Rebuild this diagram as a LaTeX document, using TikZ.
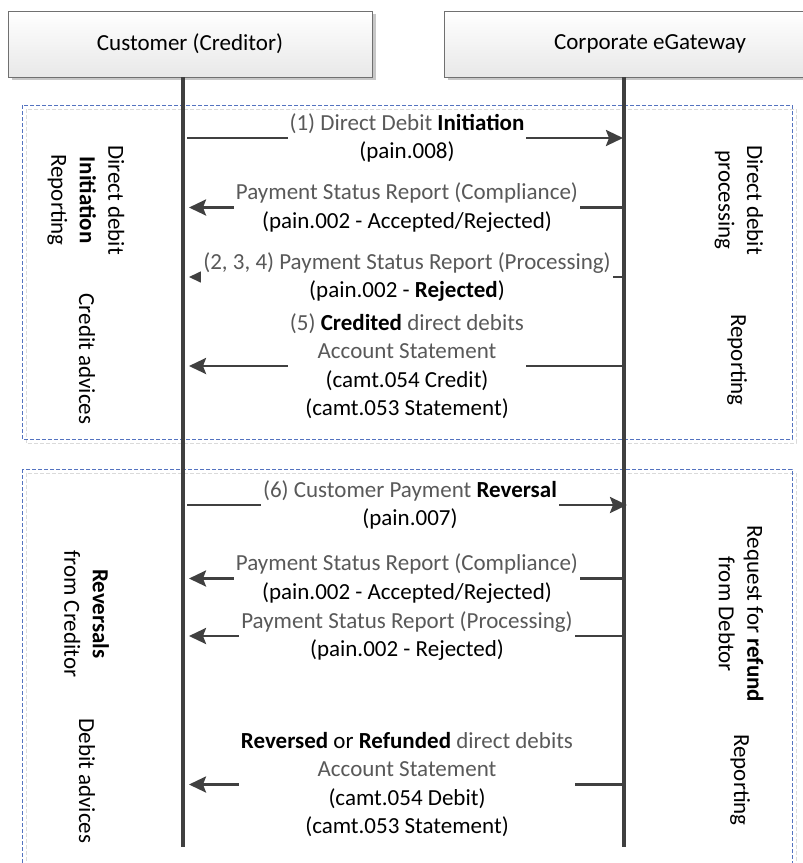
\documentclass[tikz,border=0pt]{standalone}
\usepackage{fontspec}
\setmainfont{Carlito}
\usetikzlibrary{arrows.meta,shadows,calc}
\definecolor{tg}{HTML}{595959}
\definecolor{dk}{HTML}{404040}
\definecolor{grpblue}{HTML}{5473C0}
\definecolor{grpgray}{HTML}{DADADA}
\definecolor{hdrline}{HTML}{707070}
\begin{document}
\begin{tikzpicture}[x=1pt,y=-1pt,
  every node/.style={font=\fontsize{23}{28.5}\selectfont, inner sep=0pt},
  hdr/.style={draw=hdrline, line width=0.9pt, shading=axis, top color=white, bottom color=black!9,
    minimum height=66pt, drop shadow={shadow xshift=4pt, shadow yshift=-3pt, fill=black!22, opacity=1}},
  grpbox/.style={draw=grpblue, line width=0.9pt, dash pattern=on 4pt off 2pt},
  grpshadow/.style={draw=grpgray, line width=0.9pt, dash pattern=on 4pt off 2pt},
  life/.style={draw=dk, line width=3.4pt},
  msg/.style={draw=dk, line width=2.6pt, -{Stealth[length=17pt 0, width=16pt 0, inset=3pt 0]}},
  lbl/.style={fill=white, align=center, inner xsep=2pt, inner ysep=0pt},
  vtext/.style={rotate=-90, align=center}
]
\useasboundingbox (0,0) rectangle (803,863);
\fill[white] (0,0) rectangle (803,863);
\clip (0,0) rectangle (803,863);

% group frames
\draw[grpshadow] (26,109) rectangle (796,443);
\draw[grpbox] (22,105) rectangle (792,439);
\draw[grpshadow] (26,473) rectangle (796,900);
\draw[grpbox] (22,469) rectangle (792,900);

% headers
\node[hdr, minimum width=364pt] (cust) at (190,44) {Customer (Creditor)};
\node[hdr, minimum width=412pt] (gate) at (650,44) {Corporate eGateway};

% lifelines
\coordinate (endL) at (183,847);
\coordinate (endR) at (624,847);
\draw[life] (cust.south -| endL) -- (endL);
\draw[life] (gate.south -| endR) -- (endR);

% arrow end coordinates
\coordinate (tipL) at (189,0);
\coordinate (tipR) at (623,0);
\coordinate (srcL) at (187,0);
\coordinate (srcR) at (624,0);
\coordinate (tipR6) at (627,0);

% message label anchors
\coordinate (p1) at (407,138);
\coordinate (p2) at (407,207.5);
\coordinate (p3) at (407,277);
\coordinate (p4) at (407,366);
\coordinate (p5) at (410,505);
\coordinate (p6) at (407,578.5);
\coordinate (p7) at (407,636);
\coordinate (p8) at (407,784.5);

% arrows
\draw[msg] (p1 -| srcL) -- (p1 -| tipR);
\draw[msg] (p2 -| srcR) -- (p2 -| tipL);
\draw[msg] (p3 -| srcR) -- (p3 -| tipL);
\draw[msg] (p4 -| srcR) -- (p4 -| tipL);
\draw[msg] (p5 -| srcL) -- (p5 -| tipR6);
\draw[msg] (p6 -| srcR) -- (p6 -| tipL);
\draw[msg] (p7 -| srcR) -- (p7 -| tipL);
\draw[msg] (p8 -| srcR) -- (p8 -| tipL);

% labels
\node[lbl] (m1) at (p1) {{\color{tg}(1) Direct Debit} \textbf{Initiation}\\(pain.008)};
\node[lbl] (m2) at (p2) {{\color{tg}Payment Status Report (Compliance)}\\(pain.002 - Accepted/Rejected)};
\node[lbl] (m3) at (p3) {{\color{tg}(2, 3, 4) Payment Status Report (Processing)}\\(pain.002 - \textbf{Rejected})};
\node[lbl] (m4) at (p4) {{\color{tg}(5)} \textbf{Credited} {\color{tg}direct debits}\\{\color{tg}Account Statement}\\(camt.054 Credit)\\(camt.053 Statement)};
\node[lbl] (m5) at (p5) {{\color{tg}(6) Customer Payment} \textbf{Reversal}\\(pain.007)};
\node[lbl] (m6) at (p6) {{\color{tg}Payment Status Report (Compliance)}\\(pain.002 - Accepted/Rejected)};
\node[lbl] (m7) at (p7) {{\color{tg}Payment Status Report (Processing)}\\(pain.002 - Rejected)};
\node[lbl] (m8) at (p8) {\textbf{Reversed} or \textbf{Refunded} {\color{tg}direct debits}\\{\color{tg}Account Statement}\\(camt.054 Debit)\\(camt.053 Statement)};

% vertical side labels
\node[vtext] (v1) at (86,200) {Direct debit\\\textbf{Initiation}\\Reporting};
\node[vtext] (v2) at (87,359) {Credit advices};
\node[vtext] (v3) at (739,200) {Direct debit\\processing};
\node[vtext] (v4) at (737,360) {Reporting};
\node[vtext] (v5) at (86.5,614) {\textbf{Reversals}\\from Creditor};
\node[vtext] (v6) at (87,781) {Debit advices};
\node[vtext] (v7) at (741,614) {Request for \textbf{refund}\\from Debtor};
\node[vtext] (v8) at (740,780) {Reporting};
\end{tikzpicture}
\end{document}
